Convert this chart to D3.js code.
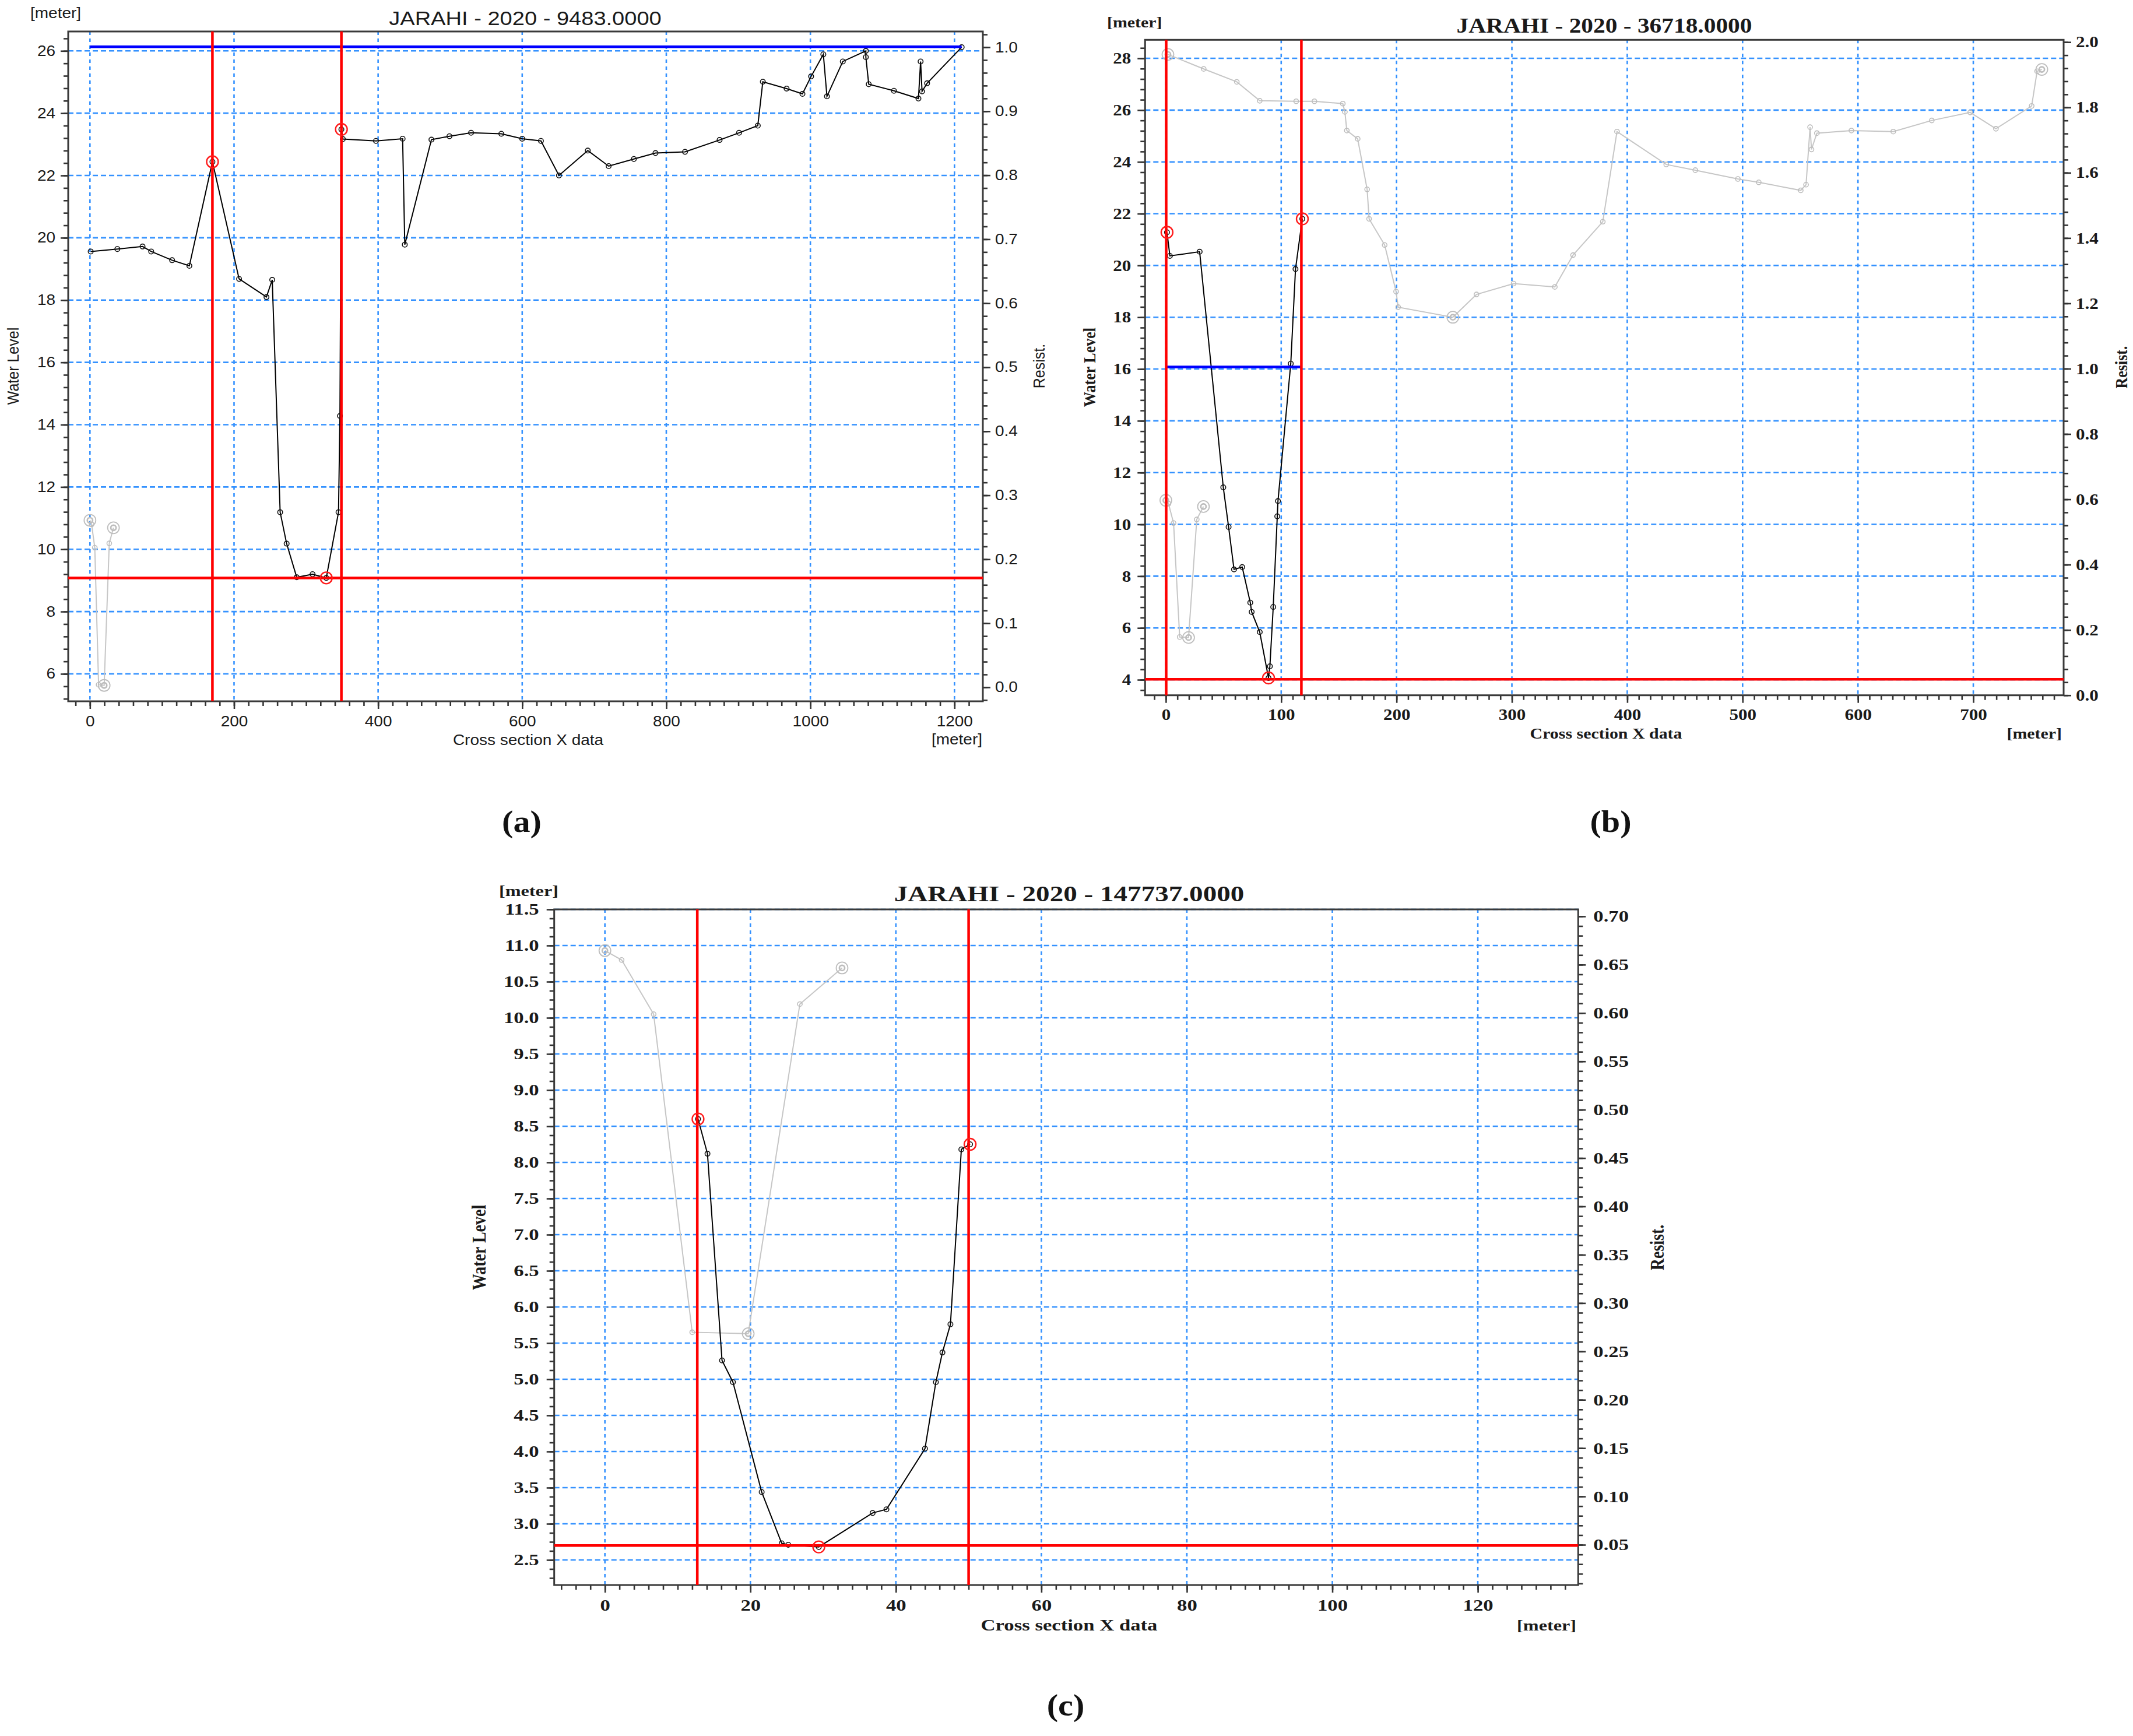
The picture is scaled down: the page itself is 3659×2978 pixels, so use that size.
<!DOCTYPE html>
<html>
<head>
<meta charset="utf-8">
<script src="https://cdn.jsdelivr.net/npm/d3@7"></script>
<style>body{margin:0;background:#fff}</style>
</head>
<body>
<div id="chart"></div>
<script>
var blackA=[[1,19.56],[38,19.64],[73,19.72],[85,19.56],[114,19.28],[138,19.10],[170,22.44],[207,18.68],[245,18.10],[253,18.65],[264,11.19],[273,10.18],[287,9.10],[309,9.20],[328,9.08],[345,11.19],[347,14.28],[349,23.48],[351,23.17],[397,23.11],[434,23.18],[437,19.78],[474,23.15],[499,23.26],[529,23.37],[571,23.34],[600,23.18],[626,23.11],[651,22.00],[691,22.80],[720,22.30],[755,22.53],[785,22.72],[826,22.76],[874,23.14],[901,23.37],[927,23.60],[934,25.01],[967,24.79],[989,24.62],[1001,25.18],[1018,25.89],[1023,24.54],[1045,25.66],[1077,26.00],[1077,25.80],[1081,24.93],[1116,24.72],[1150,24.47],[1153,25.66],[1155,24.70],[1162,24.96],[1210,26.12]];
var redPtsA=[[170,22.44],[349,23.48],[328,9.08]];
var redVA=[170,349];
var redHA=9.08;
var blueA=[0,1210,26.13];

var blackB=[[1,21.28],[3.5,20.37],[29.3,20.53],[49.8,11.43],[54.4,9.90],[59.1,8.26],[66.2,8.35],[73.2,6.98],[74.4,6.62],[81.4,5.84],[89,4.07],[90.2,4.52],[93.1,6.81],[96.6,10.31],[97.2,10.90],[108.3,16.21],[112.4,19.86],[118.3,21.80]];
var greyB=[[1.8,28.15],[32.8,27.59],[61.5,27.09],[81.4,26.36],[113,26.34],[128.8,26.34],[153.4,26.25],[155.2,25.93],[156.9,25.21],[166.3,24.89],[174.5,22.94],[176.2,21.80],[189.7,20.79],[199.6,18.99],[201.4,18.39],[248.8,18.00],[269.3,18.88],[301.5,19.30],[337.2,19.17],[353,20.40],[378.8,21.69],[391.1,25.17],[433.8,23.90],[459,23.68],[495.9,23.34],[514,23.21],[550.4,22.90],[555,23.12],[558.5,25.34],[559.7,24.48],[564.4,25.11],[594.3,25.21],[630.6,25.17],[664,25.60],[697.3,25.91],[719.6,25.28],[750.6,26.16],[755.3,27.50],[759.4,27.57]];
var greyBigB=[[1.8,28.15],[248.8,18.00],[759.4,27.57]];
var redPtsB=[[1,21.28],[89,4.07],[118.3,21.80]];
var redVB=[0.3,117.5];
var redHB=4.02;
var blueB=[0,118,16.08];

var blackC=[[12.8,8.60],[14.1,8.12],[16.1,5.26],[17.6,4.96],[21.55,3.44],[24.3,2.73],[25.2,2.71],[29.4,2.68],[36.8,3.15],[38.7,3.20],[44.0,4.04],[45.5,4.96],[46.4,5.37],[47.5,5.76],[49.0,8.18],[50.2,8.25]];
var redPtsC=[[12.8,8.60],[29.4,2.68],[50.2,8.25]];
var redVC=[12.7,50.0];
var redHC=2.70;

// grey section drawn in all three panels
var greyS=[[0,10.93],[2.3,10.80],[6.7,10.05],[12.0,5.65],[19.7,5.63],[26.8,10.19],[32.6,10.69]];
var greyBigS=[[0,10.93],[19.7,5.63],[32.6,10.69]];

// tick labels
var xTicksA=[0,200,400,600,800,1000,1200];
var yTicksA=[6,8,10,12,14,16,18,20,22,24,26];
var y2TicksA=[0,0.1,0.2,0.3,0.4,0.5,0.6,0.7,0.8,0.9,1.0];
var xTicksB=[0,100,200,300,400,500,600,700];
var yTicksB=[4,6,8,10,12,14,16,18,20,22,24,26,28];
var y2TicksB=[0,0.2,0.4,0.6,0.8,1.0,1.2,1.4,1.6,1.8,2.0];
var xTicksC=[0,20,40,60,80,100,120];
var yTicksC=[2.5,3,3.5,4,4.5,5,5.5,6,6.5,7,7.5,8,8.5,9,9.5,10,10.5,11,11.5];
var y2TicksC=[0.05,0.10,0.15,0.20,0.25,0.30,0.35,0.40,0.45,0.50,0.55,0.60,0.65,0.70];

var W=3659,H=2978;
var svg=d3.select("#chart").append("svg")
    .attr("width",W).attr("height",H)
    .style("background","#fff");

function minorTicks(dom,step){
    var out=[];
    var s=Math.ceil(dom[0]/step),e=Math.floor(dom[1]/step);
    for(var i=s;i<=e;i++){ out.push(Math.round(i*step*1e6)/1e6); }
    return out;
}

function textAt(g,p,x,y,str,size,anchor,rot){
    return g.append("text")
        .attr("transform","translate("+x+","+y+") scale("+p.sx+",1)"+(rot?" rotate(-90)":""))
        .attr("text-anchor",anchor)
        .attr("dominant-baseline","central")
        .style("font-family",p.font)
        .style("font-weight",p.weight)
        .style("font-size",size+"px")
        .style("fill","#1a1a1a")
        .text(str);
}

function drawPanel(p){
    var g=svg.append("g");
    var L=p.box[0],T=p.box[1],R=p.box[2],B=p.box[3];
    var x=d3.scaleLinear().domain(p.xDom).range([L,R]);
    var y=d3.scaleLinear().domain(p.yDom).range([B,T]);
    var y2=d3.scaleLinear().domain(p.y2Dom).range([B,T]);

    // grid
    g.selectAll(null).data(p.yTicks).enter().append("line")
        .attr("x1",L).attr("x2",R)
        .attr("y1",function(d){return y(d);}).attr("y2",function(d){return y(d);})
        .style("stroke","#3592ff").style("stroke-width",2.6).style("stroke-dasharray","9,5");
    g.selectAll(null).data(p.xTicks).enter().append("line")
        .attr("y1",T).attr("y2",B)
        .attr("x1",function(d){return x(d);}).attr("x2",function(d){return x(d);})
        .style("stroke","#3592ff").style("stroke-width",2.6).style("stroke-dasharray","6,6");

    // axes: minor then major
    var defs=[
        {gen:d3.axisBottom(x),tr:"translate(0,"+B+")",major:p.xTicks,minor:minorTicks(p.xDom,p.xMinor),fmt:p.xFmt,pad:p.padB,side:"b"},
        {gen:d3.axisLeft(y),tr:"translate("+L+",0)",major:p.yTicks,minor:minorTicks(p.yDom,p.yMinor),fmt:p.yFmt,pad:p.padL,side:"l"},
        {gen:d3.axisRight(y2),tr:"translate("+R+",0)",major:p.y2Ticks,minor:minorTicks(p.y2Dom,p.y2Minor),fmt:p.y2Fmt,pad:p.padR,side:"r"}
    ];
    defs.forEach(function(a){
        var gm=g.append("g").attr("transform",a.tr)
            .call(a.gen.tickValues(a.minor).tickSize(8).tickFormat(""));
        gm.select(".domain").remove();
        gm.selectAll("line").style("stroke","#333").style("stroke-width",2.6);
    });
    defs.forEach(function(a){
        var ga=g.append("g").attr("transform",a.tr)
            .call(a.gen.tickValues(a.major).tickSize(13).tickPadding(a.pad).tickFormat(d3.format(a.fmt)));
        ga.select(".domain").remove();
        ga.selectAll("line").style("stroke","#333").style("stroke-width",2.6);
        ga.selectAll("text")
            .style("font-family",p.font).style("font-weight",p.weight)
            .style("font-size",p.tickFont+"px").style("fill","#1a1a1a")
            .each(function(){
                var t=d3.select(this);
                if(a.side!="b"){ t.attr("x",+t.attr("x")/p.sx); }
                t.attr("transform","scale("+p.sx+",1)");
            });
    });

    // frame
    g.append("rect").attr("x",L).attr("y",T).attr("width",R-L).attr("height",B-T)
        .style("fill","none").style("stroke","#3a3a3a").style("stroke-width",3);

    var line=d3.line().x(function(d){return x(d[0]);}).y(function(d){return y(d[1]);});

    // grey sections
    p.grey.forEach(function(s){
        g.append("path").datum(s).attr("d",line)
            .style("fill","none").style("stroke","#c6c6c6").style("stroke-width",2);
        g.selectAll(null).data(s).enter().append("circle")
            .attr("cx",function(d){return x(d[0]);}).attr("cy",function(d){return y(d[1]);})
            .attr("r",4).style("fill","none").style("stroke","#bdbdbd").style("stroke-width",1.6);
    });
    p.greyBig.forEach(function(s){
        [10,5].forEach(function(r){
            g.selectAll(null).data(s).enter().append("circle")
                .attr("cx",function(d){return x(d[0]);}).attr("cy",function(d){return y(d[1]);})
                .attr("r",r).style("fill","none").style("stroke","#bdbdbd").style("stroke-width",1.8);
        });
    });

    // black section
    g.append("path").datum(p.black).attr("d",line)
        .style("fill","none").style("stroke","#000").style("stroke-width",2);
    g.selectAll(null).data(p.black).enter().append("circle")
        .attr("cx",function(d){return x(d[0]);}).attr("cy",function(d){return y(d[1]);})
        .attr("r",4.2).style("fill","none").style("stroke","#111").style("stroke-width",1.6);

    // blue level
    if(p.blue){
        g.append("line").attr("x1",x(p.blue[0])).attr("x2",x(p.blue[1]))
            .attr("y1",y(p.blue[2])).attr("y2",y(p.blue[2]))
            .style("stroke","#0000ff").style("stroke-width",4.5);
    }

    // red markers
    g.selectAll(null).data(p.redV).enter().append("line")
        .attr("x1",function(d){return x(d);}).attr("x2",function(d){return x(d);})
        .attr("y1",T).attr("y2",B)
        .style("stroke","#ff0000").style("stroke-width",4.5);
    g.append("line").attr("x1",L).attr("x2",R)
        .attr("y1",y(p.redH)).attr("y2",y(p.redH))
        .style("stroke","#ff0000").style("stroke-width",4.5);
    g.selectAll(null).data(p.redPts).enter().append("circle")
        .attr("cx",function(d){return x(d[0]);}).attr("cy",function(d){return y(d[1]);})
        .attr("r",10).style("fill","none").style("stroke","#ff1a1a").style("stroke-width",2.4);

    // texts
    textAt(g,p,p.title[0],p.title[1],p.titleText,p.titleFont,"middle");
    textAt(g,p,p.unitTop[0],p.unitTop[1],"[meter]",p.unitFont,"start");
    textAt(g,p,p.unitBot[0],p.unitBot[1],"[meter]",p.unitFont,"end");
    textAt(g,p,p.xLab[0],p.xLab[1],"Cross section X data",p.labFont,"middle");
    textAt(g,p,p.yLab[0],p.yLab[1],"Water Level",p.labFont,"middle",true);
    textAt(g,p,p.y2Lab[0],p.y2Lab[1],"Resist.",p.labFont,"middle",true);
    g.append("text")
        .attr("transform","translate("+p.cap[0]+","+p.cap[1]+") scale(1.12,1)")
        .attr("text-anchor","middle").attr("dominant-baseline","central")
        .style("font-family","Liberation Serif").style("font-weight","bold")
        .style("font-size","52px").style("fill","#111")
        .text(p.capText);
}

drawPanel({
    box:[117,54,1686,1203], xDom:[-30.2,1239.4], yDom:[5.12,26.623], y2Dom:[-0.0219,1.0246],
    xTicks:xTicksA, yTicks:yTicksA, y2Ticks:y2TicksA, xMinor:20, yMinor:0.4, y2Minor:0.02,
    xFmt:"d", yFmt:"d", y2Fmt:".1f", padB:12, padL:9, padR:8,
    font:"Liberation Sans", weight:"normal", sx:1.12, tickFont:25,
    titleText:"JARAHI - 2020 - 9483.0000", title:[901,31], titleFont:34,
    unitTop:[52,23], unitBot:[1685,1269], unitFont:25,
    xLab:[906,1270], yLab:[23,628], y2Lab:[1783,628], labFont:25,
    cap:[895,1410], capText:"(a)",
    black:blackA, grey:[greyS], greyBig:[greyBigS], redPts:redPtsA, redV:redVA, redH:redHA, blue:blueA
});

drawPanel({
    box:[1964.3,68.3,3540,1192.7], xDom:[-18.0,778.3], yDom:[3.40,28.714], y2Dom:[0,2.007],
    xTicks:xTicksB, yTicks:yTicksB, y2Ticks:y2TicksB, xMinor:10, yMinor:0.4, y2Minor:0.04,
    xFmt:"d", yFmt:"d", y2Fmt:".1f", padB:10, padL:11, padR:8,
    font:"Liberation Serif", weight:"bold", sx:1.15, tickFont:27,
    titleText:"JARAHI - 2020 - 36718.0000", title:[2752,43], titleFont:36,
    unitTop:[1899,38], unitBot:[3537,1258], unitFont:26,
    xLab:[2755,1258], yLab:[1869,630], y2Lab:[3639,630], labFont:26,
    cap:[2763,1410], capText:"(b)",
    black:blackB, grey:[greyS,greyB], greyBig:[greyBigS,greyBigB], redPts:redPtsB, redV:redVB, redH:redHB, blue:blueB
});

drawPanel({
    box:[950.7,1560,2707.3,2719], xDom:[-6.97,133.8], yDom:[2.153,11.5], y2Dom:[0.0084,0.7072],
    xTicks:xTicksC, yTicks:yTicksC, y2Ticks:y2TicksC, xMinor:2, yMinor:0.125, y2Minor:0.01,
    xFmt:"d", yFmt:".1f", y2Fmt:".2f", padB:11, padL:13, padR:13,
    font:"Liberation Serif", weight:"bold", sx:1.24, tickFont:28,
    titleText:"JARAHI - 2020 - 147737.0000", title:[1834,1533], titleFont:38,
    unitTop:[856,1528], unitBot:[2704,2788], unitFont:26,
    xLab:[1834,2788], yLab:[821,2140], y2Lab:[2842,2140], labFont:28,
    cap:[1828,2926], capText:"(c)",
    black:blackC, grey:[greyS], greyBig:[greyBigS], redPts:redPtsC, redV:redVC, redH:redHC, blue:null
});
</script>
</body>
</html>
